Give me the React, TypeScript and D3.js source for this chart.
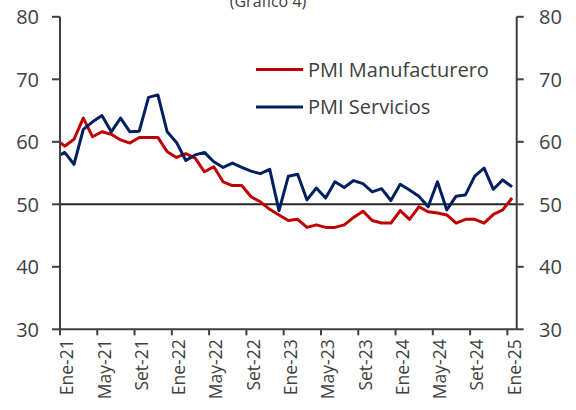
import React from "react";
import * as d3 from "d3";

// Months Dec-20 .. Jan-25 (Dec-20 is clipped at the left axis)
const monthIndex: number[] = d3.range(-1, 49);

const manufacturero: number[] = [
  60.5,
  59.3, 60.4, 63.8, 60.8, 61.6, 61.2, 60.3, 59.8, 60.7, 60.7, 60.7, 58.4,
  57.5, 58.1, 57.4, 55.2, 56.0, 53.6, 53.0, 53.0, 51.2, 50.4, 49.2, 48.3,
  47.4, 47.6, 46.3, 46.7, 46.3, 46.3, 46.7, 47.9, 48.9, 47.4, 47.0, 47.0,
  49.0, 47.6, 49.6, 48.8, 48.6, 48.3, 47.0, 47.6, 47.6, 47.0, 48.4, 49.1,
  51.0,
];

const servicios: number[] = [
  57.5,
  58.3, 56.4, 62.0, 63.2, 64.2, 61.6, 63.8, 61.6, 61.7, 67.1, 67.5, 61.6,
  59.9, 57.0, 57.9, 58.3, 56.8, 55.9, 56.6, 55.9, 55.3, 54.9, 55.6, 49.0,
  54.5, 54.8, 50.7, 52.6, 51.0, 53.6, 52.7, 53.8, 53.3, 52.0, 52.5, 50.6,
  53.2, 52.3, 51.3, 49.6, 53.6, 49.1, 51.3, 51.5, 54.5, 55.8, 52.4, 53.9,
  52.8,
];

const tickMonths: number[] = [0, 4, 8, 12, 16, 20, 24, 28, 32, 36, 40, 44, 48];
const tickLabels: string[] = [
  "Ene-21", "May-21", "Set-21", "Ene-22", "May-22", "Set-22", "Ene-23",
  "May-23", "Set-23", "Ene-24", "May-24", "Set-24", "Ene-25",
];
const yTicks: number[] = [30, 40, 50, 60, 70, 80];

const seriesNames: string[] = ["PMI Manufacturero", "PMI Servicios"];
const seriesColors: string[] = ["#C00000", "#002060"];

const W = 576;
const H = 410;
const left = 60;
const right = 516.7;
const top = 16.8;
const bottom = 329.3;
const axisColor = "#404040";
const font = "'Open Sans', 'Noto Sans', sans-serif";

export default function App() {
  const x = d3.scaleLinear().domain([0, 49]).range([left, right]);
  const y = d3.scaleLinear().domain([30, 80]).range([bottom, top]);

  const line = d3
    .line<number>()
    .x((_, i) => x(monthIndex[i] + 0.5))
    .y((d) => y(d));

  const series = [manufacturero, servicios];

  return (
    <svg
      width={W}
      height={H}
      style={{ position: "absolute", left: 0, top: 0, background: "#fff" }}
      fontFamily={font}
    >
      <defs>
        <clipPath id="plot">
          <rect x={left} y={0} width={right - left} height={bottom} />
        </clipPath>
      </defs>

      {/* title (cut off at top, as in the source) */}
      <text x={268} y={7} textAnchor="middle" fontSize={16} fill={axisColor}>
        (Gráfico 4)
      </text>

      {/* reference line at 50 */}
      <line
        x1={left}
        x2={right}
        y1={y(50)}
        y2={y(50)}
        stroke="#262626"
        strokeWidth={2}
      />

      {/* series */}
      <g clipPath="url(#plot)">
        {series.map((s, k) => (
          <path
            key={k}
            d={line(s) || ""}
            fill="none"
            stroke={seriesColors[k]}
            strokeWidth={3}
            strokeLinejoin="round"
          />
        ))}
      </g>

      {/* left axis */}
      <line x1={left} x2={left} y1={top} y2={bottom} stroke={axisColor} strokeWidth={2} />
      {yTicks.map((t) => (
        <g key={"l" + t}>
          <line x1={left - 8} x2={left} y1={y(t)} y2={y(t)} stroke={axisColor} strokeWidth={2} />
          <text
            x={39}
            y={y(t)}
            dy="0.36em"
            textAnchor="end"
            fontSize={20}
            fill={axisColor}
          >
            {t}
          </text>
        </g>
      ))}

      {/* right axis */}
      <line x1={right} x2={right} y1={top} y2={bottom} stroke={axisColor} strokeWidth={2} />
      {yTicks.map((t) => (
        <g key={"r" + t}>
          <line x1={right} x2={right + 7} y1={y(t)} y2={y(t)} stroke={axisColor} strokeWidth={2} />
          <text
            x={539}
            y={y(t)}
            dy="0.36em"
            textAnchor="start"
            fontSize={20}
            fill={axisColor}
          >
            {t}
          </text>
        </g>
      ))}

      {/* bottom axis */}
      <line x1={left} x2={right} y1={bottom} y2={bottom} stroke={axisColor} strokeWidth={2} />
      {tickMonths.map((m, i) => (
        <g key={"x" + m}>
          <line x1={x(m)} x2={x(m)} y1={bottom} y2={bottom + 6} stroke={axisColor} strokeWidth={2} />
          <text
            transform={`translate(${x(m) + 7},${bottom + 10}) rotate(-90)`}
            textAnchor="end"
            dy="0.36em"
            fontSize={17.5}
            fill={axisColor}
          >
            {tickLabels[i]}
          </text>
        </g>
      ))}

      {/* legend */}
      {seriesNames.map((n, k) => (
        <g key={n} transform={`translate(256,${69.5 + k * 37.5})`}>
          <line x1={0} x2={47} y1={0} y2={0} stroke={seriesColors[k]} strokeWidth={3} />
          <text x={52} y={0} dy="0.36em" fontSize={20} fill={axisColor}>
            {n}
          </text>
        </g>
      ))}
    </svg>
  );
}
